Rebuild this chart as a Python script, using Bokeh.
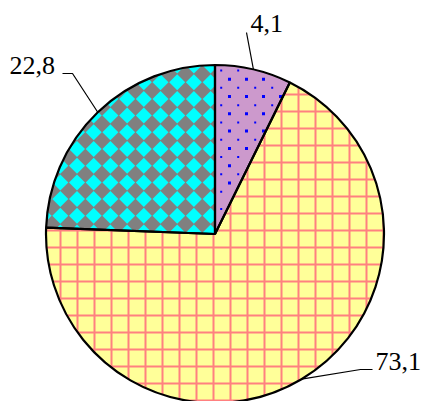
import numpy as np
from bokeh.plotting import figure
from bokeh.models import Range1d
from bokeh.core.properties import value
from bokeh.embed import file_html
from bokeh.resources import INLINE

# ---- data ----
slice_labels = ["4,1", "73,1", "22,8"]      # texts printed next to the slices
slice_shares = [7.3, 68.3, 24.4]             # drawn share of the circle, percent (clockwise from top)

# ---- layout / style ----
W, H = 425, 401
CX, CY, R = 214.5, 233.5, 169.0              # screen px (data y = -screen y)
FONT = "Liberation Serif"
PURPLE, DOT_BLUE = "#CC99CC", "#0000FF"
YELLOW, GRID_PINK = "#FFFF99", "#FF8080"
GREY, CYAN = "#808080", "#00FFFF"

p = figure(width=W, height=H, output_backend="svg", toolbar_location=None,
           x_range=Range1d(0, W), y_range=Range1d(-H, 0),
           min_border=0, outline_line_color=None)
p.axis.visible = False
p.grid.visible = False

edges = np.concatenate([[0.0], np.cumsum(slice_shares)])
ang = np.deg2rad(90.0 - 3.6 * edges)        # boundaries, clockwise from 12 o'clock

# ---- slice fills ----
p.wedge(x=CX, y=-CY, radius=R, start_angle=ang[1], end_angle=ang[0],
        fill_color=PURPLE, line_color=None)
p.wedge(x=CX, y=-CY, radius=R, start_angle=ang[2], end_angle=ang[1],
        fill_color=YELLOW, hatch_pattern="cross", hatch_color=GRID_PINK,
        hatch_scale=17, hatch_weight=2, line_color=None)
p.wedge(x=CX, y=-CY, radius=R, start_angle=ang[3], end_angle=ang[2],
        fill_color=GREY, line_color=None)

# ---- cyan diamond pattern inside the grey slice (clipped to the slice) ----
def clip(poly, cpoly):
    out = poly
    n = len(cpoly)
    for k in range(n):
        A, B = cpoly[k], cpoly[(k + 1) % n]
        inp, out = out, []
        if not inp:
            break
        def side(P):
            return (B[0] - A[0]) * (P[1] - A[1]) - (B[1] - A[1]) * (P[0] - A[0])
        S = inp[-1]
        for E in inp:
            sE, sS = side(E), side(S)
            if sE >= 0:
                if sS < 0:
                    t = sS / (sS - sE)
                    out.append((S[0] + t * (E[0] - S[0]), S[1] + t * (E[1] - S[1])))
                out.append(E)
            elif sS >= 0:
                t = sS / (sS - sE)
                out.append((S[0] + t * (E[0] - S[0]), S[1] + t * (E[1] - S[1])))
            S = E
    return out

arc = np.linspace(ang[3], ang[2], 90)
sector = [(CX, -CY)] + [(CX + R * np.cos(a), -CY + R * np.sin(a)) for a in arc]
D, HD = 16.7, 8.0
ox, oy = 176.7, -81.7
dxs, dys = [], []
for i in range(-12, 4):
    for j in range(-12, 3):
        x0, y0 = ox + i * D, oy + j * D
        dia = [(x0, y0 + HD), (x0 - HD, y0), (x0, y0 - HD), (x0 + HD, y0)]
        c = clip(dia, sector)
        if len(c) >= 3:
            dxs.append([q[0] for q in c])
            dys.append([q[1] for q in c])
p.patches(dxs, dys, fill_color=CYAN, line_color=None)

# ---- blue dots inside the purple slice ----
def inside_purple(x, y, m=2.0):
    dx, dy = x - CX, CY - y
    r = np.hypot(dx, dy)
    phi = np.arctan2(dy, dx)
    if r > R - 2.5 or not (ang[1] < phi < ang[0]):
        return False
    return r * np.sin(phi - ang[1]) > m and r * np.sin(ang[0] - phi) > m

big_x, big_y, sm_x, sm_y = [], [], [], []
for i in range(-3, 6):
    for j in range(-3, 10):
        bx, by = 229.0 + 17.0 * i, 113.3 + 17.3 * j
        if inside_purple(bx, by):
            big_x.append(bx); big_y.append(-by)
        sx, sy = bx - 8.3, by - 8.65
        if inside_purple(sx, sy):
            sm_x.append(sx); sm_y.append(-sy)
p.scatter(big_x, big_y, marker="square", size=3, fill_color=DOT_BLUE, line_color=None)
p.scatter(sm_x, sm_y, marker="square", size=2, fill_color=DOT_BLUE, line_color=None)

# ---- slice outlines ----
for i in range(len(slice_shares)):
    p.wedge(x=CX, y=-CY, radius=R, start_angle=ang[i + 1], end_angle=ang[i],
            fill_color=None, line_color="black", line_width=2.2)

# ---- labels with leader lines ----
label_pos = [(250, 23), (375, 361), (9, 65)]           # text left x, baseline y (screen)
leader_pts = [[(246, 32)], [(360, 369), (372, 369)], [(72, 73), (62, 73)]]
for i in range(len(slice_shares)):
    mid = 0.5 * (ang[i] + ang[i + 1])
    xs = [CX + R * np.cos(mid)] + [q[0] for q in leader_pts[i]]
    ys = [-CY + R * np.sin(mid)] + [-q[1] for q in leader_pts[i]]
    p.line(xs, ys, line_color="black", line_width=1.2)
    lx, ly = label_pos[i]
    p.text(x=[lx], y=[-ly], text=[slice_labels[i]], text_font=value(FONT),
           text_font_size="26px", text_color="black",
           text_align="left", text_baseline="alphabetic")

open("out.html", "w").write(file_html(p, INLINE))
